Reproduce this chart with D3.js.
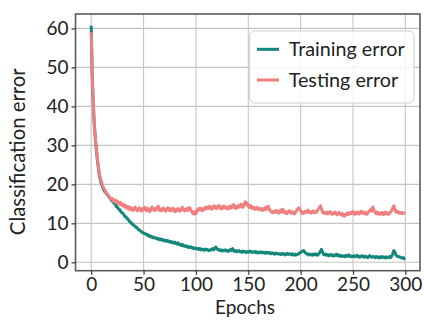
<!DOCTYPE html>
<html>
<head>
<meta charset="utf-8">
<script src="https://cdn.jsdelivr.net/npm/d3@7"></script>
<style>
  html, body { margin: 0; padding: 0; background: #fff; }
  svg { display: block; }
  text { font-family: Lato, "Open Sans", sans-serif; fill: #222; }
</style>
</head>
<body>
<svg id="chart" width="424" height="321"></svg>
<script>
// Classification error per epoch (0..300)
const trainingError = [
  60.7, 47.5, 40.2, 35.1, 31.4, 28.6, 26.0, 23.8, 22.0, 20.8,
  19.9, 19.2, 18.5, 18.1, 17.9, 17.4, 17.2, 16.7, 16.5, 16.0,
  15.8, 15.5, 15.1, 14.9, 14.3, 14.2, 13.7, 13.6, 13.1, 12.8,
  12.6, 12.3, 11.8, 11.7, 11.3, 11.1, 10.7, 10.4, 10.2, 9.8,
  9.7, 9.4, 9.3, 8.9, 8.8, 8.4, 8.3, 8.0, 7.9, 7.6,
  7.6, 7.3, 7.3, 7.0, 7.1, 6.7, 6.8, 6.5, 6.6, 6.3,
  6.4, 6.2, 6.3, 6.0, 6.1, 5.8, 6.0, 5.7, 5.9, 5.6,
  5.5, 5.7, 5.4, 5.6, 5.3, 5.4, 5.1, 5.3, 5.0, 4.9,
  5.2, 4.8, 4.7, 5.0, 4.5, 4.6, 4.3, 4.6, 4.2, 4.1,
  4.3, 4.0, 4.1, 3.8, 3.9, 4.0, 3.7, 3.8, 3.5, 3.7,
  3.6, 3.4, 3.6, 3.3, 3.5, 3.2, 3.4, 3.3, 3.1, 3.4,
  3.2, 3.3, 3.0, 3.2, 3.1, 3.3, 3.5, 3.2, 3.6, 3.9,
  3.5, 3.2, 3.3, 3.0, 3.2, 2.9, 3.1, 3.0, 3.2, 2.9,
  3.0, 2.8, 3.1, 3.3, 3.0, 3.5, 3.1, 2.8, 3.0, 2.7,
  2.9, 3.0, 2.7, 2.8, 2.6, 2.9, 2.7, 2.8, 2.5, 2.7,
  2.8, 2.6, 2.9, 2.7, 2.5, 2.6, 2.8, 2.5, 2.7, 2.4,
  2.6, 2.5, 2.7, 2.4, 2.6, 2.5, 2.3, 2.6, 2.4, 2.5,
  2.3, 2.5, 2.2, 2.4, 2.3, 2.1, 2.4, 2.2, 2.3, 2.1,
  2.2, 2.0, 2.3, 2.1, 2.2, 1.9, 2.1, 2.3, 2.0, 2.2,
  2.1, 1.9, 2.2, 2.0, 1.8, 2.1, 1.9, 2.0, 2.2, 2.4,
  2.5, 2.8, 2.9, 3.0, 2.6, 2.3, 2.1, 2.2, 1.9, 2.1,
  2.0, 1.8, 2.1, 1.9, 2.2, 2.0, 1.8, 2.1, 2.4, 2.9,
  3.3, 2.6, 2.0, 1.9, 2.1, 1.8, 2.0, 1.7, 1.9, 2.0,
  1.7, 1.9, 1.6, 1.8, 2.1, 1.7, 1.9, 1.6, 1.8, 1.5,
  1.7, 1.6, 1.4, 1.8, 1.6, 1.5, 1.9, 1.7, 1.4, 1.6,
  1.5, 1.7, 1.4, 1.6, 1.8, 1.5, 1.3, 1.6, 1.4, 1.7,
  1.5, 1.3, 1.6, 1.4, 1.2, 1.5, 1.7, 1.4, 1.3, 1.5,
  1.4, 1.2, 1.5, 1.3, 1.4, 1.1, 1.3, 1.5, 1.2, 1.4,
  1.3, 1.1, 1.4, 1.2, 1.3, 1.5, 1.2, 1.6, 2.2, 3.0,
  2.6, 1.9, 1.6, 1.4, 1.5, 1.3, 1.2, 1.1, 1.2, 0.9,
  0.8
];

const testingError = [
  59.0, 47.8, 40.5, 35.0, 31.8, 29.0, 26.5, 24.3, 22.6, 21.3,
  20.4, 19.6, 19.0, 18.6, 18.0, 17.7, 17.3, 16.8, 16.6, 16.2,
  16.4, 15.8, 15.6, 16.0, 15.3, 15.7, 15.1, 14.9, 15.4, 14.7,
  14.5, 14.9, 14.2, 14.6, 13.9, 14.3, 13.6, 14.1, 13.5, 13.9,
  13.3, 13.8, 14.2, 13.5, 13.2, 13.7, 14.0, 13.4, 13.1, 13.8,
  13.5, 14.1, 13.6, 13.2, 13.9, 13.4, 13.0, 13.6, 14.2, 13.7,
  13.3, 13.8, 13.4, 14.0, 14.4, 13.6, 13.2, 13.7, 13.3, 13.9,
  13.5, 13.1, 13.6, 14.0, 13.4, 13.8, 13.2, 13.5, 13.9, 13.3,
  13.0, 13.6, 13.2, 13.8, 13.4, 13.1, 13.7, 14.1, 13.5, 13.2,
  13.6, 13.3, 13.9, 13.4, 14.0, 13.5, 13.1, 12.6, 12.4, 13.0,
  12.5, 13.2, 13.7, 13.4, 13.9, 13.5, 13.2, 13.8, 13.6, 14.1,
  13.7, 14.2, 13.8, 14.4, 14.0, 13.6, 14.1, 14.5, 13.9, 14.3,
  13.8, 14.2, 14.6, 14.0, 13.7, 14.3, 13.9, 14.4, 14.1, 13.8,
  14.2, 13.7, 14.0, 14.5, 13.9, 14.3, 14.8, 14.1, 13.8, 14.4,
  14.0, 14.6, 14.2, 14.9, 14.5, 14.1, 15.0, 15.5, 14.8, 15.2,
  14.4, 14.1, 14.6, 13.9, 14.2, 13.7, 14.0, 13.6, 14.1, 13.8,
  13.5, 13.9, 13.6, 13.3, 13.8, 13.4, 13.7, 14.2, 13.6, 14.4,
  13.8, 13.2, 13.0, 12.7, 13.1, 12.8, 13.3, 12.9, 13.2, 12.6,
  13.0, 13.4, 12.8, 13.6, 13.1, 12.7, 13.0, 12.5, 12.8, 13.2,
  12.9, 12.6, 13.0, 12.7, 12.4, 12.8, 13.3, 13.6, 14.0, 13.7,
  13.2, 12.9, 12.5, 12.8, 13.1, 12.7, 12.9, 13.4, 12.8, 13.0,
  12.6, 12.9, 13.2, 12.7, 13.0, 12.8, 13.3, 13.7, 14.1, 14.5,
  13.6, 12.9, 12.6, 12.8, 12.5, 12.9, 12.4, 12.7, 13.0, 12.6,
  12.3, 12.7, 12.5, 12.9, 12.4, 12.2, 12.6, 12.8, 12.3, 12.1,
  12.5, 11.9, 11.8, 12.3, 12.6, 12.2, 12.7, 12.4, 12.8, 12.5,
  13.0, 12.6, 12.3, 12.8, 12.5, 12.9, 12.4, 12.7, 13.1, 12.6,
  12.9, 12.5, 12.8, 12.3, 12.6, 13.0, 13.3, 13.6, 13.1, 14.2,
  13.4, 12.8, 12.5, 12.9, 12.4, 12.7, 12.3, 12.6, 12.8, 12.2,
  12.5, 12.9, 12.4, 12.7, 12.3, 12.6, 12.9, 13.3, 14.0, 14.5,
  13.5, 12.9, 13.2, 12.7, 12.9, 12.6, 12.8, 12.5, 12.7, 12.6,
  12.6
];

const epochs = d3.range(trainingError.length);
const xTicks = [0, 50, 100, 150, 200, 250, 300];
const yTicks = [0, 10, 20, 30, 40, 50, 60];
const seriesNames = ["Training error", "Testing error"];
const seriesColors = ["#14877b", "#f07f7f"];

const svg = d3.select("#chart");
const plot = { left: 75.5, right: 420, top: 14, bottom: 270.7 };

const x = d3.scaleLinear().domain([-15, 314]).range([plot.left, plot.right]);
const y = d3.scaleLinear().domain([-2.15, 63.7]).range([plot.bottom, plot.top]);

// scale a text's font size so that it spans the given width
function fitWidth(sel, width) {
  const len = sel.node().getComputedTextLength();
  const fs = parseFloat(sel.attr("font-size"));
  sel.attr("font-size", (fs * width / len).toFixed(2));
  return sel;
}

// grid
const grid = svg.append("g").attr("stroke", "#c4c4c4").attr("stroke-width", 1.1);
grid.selectAll("line.vx").data(xTicks).join("line")
  .attr("x1", d => x(d)).attr("x2", d => x(d))
  .attr("y1", plot.top).attr("y2", plot.bottom);
grid.selectAll("line.hy").data(yTicks).join("line")
  .attr("x1", plot.left).attr("x2", plot.right)
  .attr("y1", d => y(d)).attr("y2", d => y(d));

// series
const line = d3.line().x((d, i) => x(epochs[i])).y(d => y(d));
[trainingError, testingError].forEach((vals, k) => {
  svg.append("path")
    .datum(vals)
    .attr("d", line)
    .attr("fill", "none")
    .attr("stroke", seriesColors[k])
    .attr("stroke-width", 3)
    .attr("stroke-linejoin", "round");
});

// frame
svg.append("rect")
  .attr("x", plot.left).attr("y", plot.top)
  .attr("width", plot.right - plot.left).attr("height", plot.bottom - plot.top)
  .attr("fill", "none").attr("stroke", "#5a5a5a").attr("stroke-width", 1.6);

// axes
const xAxis = d3.axisBottom(x).tickValues(xTicks).tickSize(4).tickPadding(3);
const yAxis = d3.axisLeft(y).tickValues(yTicks).tickSize(4).tickPadding(3);

const gx = svg.append("g").attr("transform", `translate(0,${plot.bottom})`).call(xAxis);
const gy = svg.append("g").attr("transform", `translate(${plot.left},0)`).call(yAxis);
[gx, gy].forEach(g => {
  g.select(".domain").remove();
  g.selectAll(".tick line").attr("stroke", "#333").attr("stroke-width", 1.2);
  g.selectAll(".tick text")
    .attr("font-family", "Lato, sans-serif")
    .attr("font-size", 19)
    .attr("fill", "#222");
});

// axis titles
const xTitle = svg.append("text")
  .attr("x", 245)
  .attr("y", 314)
  .attr("text-anchor", "middle")
  .attr("font-size", 19)
  .text("Epochs");
fitWidth(xTitle, 60);

const yTitle = svg.append("text")
  .attr("transform", "translate(25,151.7) rotate(-90)")
  .attr("text-anchor", "middle")
  .attr("font-size", 19)
  .text("Classification error");
fitWidth(yTitle, 167);

// legend
const lg = svg.append("g");
lg.append("rect")
  .attr("x", 249.7).attr("y", 31)
  .attr("width", 164.3).attr("height", 72)
  .attr("rx", 5).attr("ry", 5)
  .attr("fill", "#fff").attr("fill-opacity", 0.85)
  .attr("stroke", "#cfcfcf").attr("stroke-width", 1);

const legendTexts = seriesNames.map((name, i) => {
  const cy = 49.3 + i * 30.7;
  lg.append("line")
    .attr("x1", 257).attr("x2", 279)
    .attr("y1", cy).attr("y2", cy)
    .attr("stroke", seriesColors[i]).attr("stroke-width", 3);
  return lg.append("text")
    .attr("x", 288.7).attr("y", cy)
    .attr("dy", "0.35em")
    .attr("font-size", 19)
    .text(name);
});
// both legend entries share one size, set by the first entry
fitWidth(legendTexts[0], 116);
legendTexts[1].attr("font-size", legendTexts[0].attr("font-size"));
</script>
</body>
</html>
